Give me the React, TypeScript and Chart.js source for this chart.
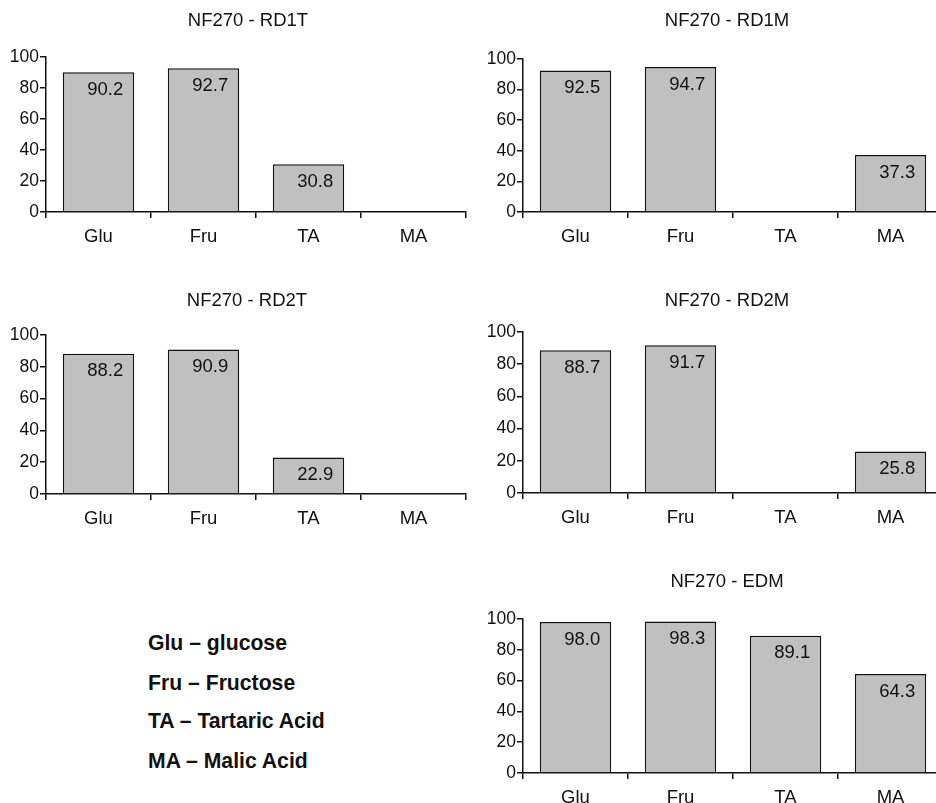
import { useEffect, useRef } from 'react';
import { Chart, registerables } from 'chart.js';

Chart.register(...registerables);

// Compounds on the x axis
const categories = ['Glu', 'Fru', 'TA', 'MA'];

// Rejection (%) per membrane test; null = not measured
const rd1tValues = [90.2, 92.7, 30.8, null];
const rd1mValues = [92.5, 94.7, null, 37.3];
const rd2tValues = [88.2, 90.9, 22.9, null];
const rd2mValues = [88.7, 91.7, null, 25.8];
const edmValues = [98.0, 98.3, 89.1, 64.3];

// Y axis range and step
const yMin = 0;
const yMax = 100;
const yStep = 20;

// Abbreviation key
const keyLines = ['Glu – glucose', 'Fru – Fructose', 'TA – Tartaric Acid', 'MA – Malic Acid'];

const FONT = '"Liberation Sans", Arial, Helvetica, sans-serif';
const INK = '#111111';
const BAR_FILL = '#c0c0c0';
const Y_AXIS_WIDTH = 46;
const PLOT_WIDTH = 420;
const X_AXIS_HEIGHT = 40;
const TITLE_SIZE = 18.5;

type Box = { left: number; top: number; width: number; plotTop: number; plotBottom: number; titleY: number };

const barValueLabels = {
  id: 'barValueLabels',
  afterDatasetsDraw(chart: any) {
    const { ctx } = chart;
    const meta = chart.getDatasetMeta(0);
    const data = chart.data.datasets[0].data as (number | null)[];
    ctx.save();
    ctx.font = `18.5px ${FONT}`;
    ctx.fillStyle = INK;
    ctx.textAlign = 'right';
    ctx.textBaseline = 'middle';
    meta.data.forEach((bar: any, i: number) => {
      const v = data[i];
      if (v == null) return;
      const { x, y, width } = bar.getProps(['x', 'y', 'width'], true);
      ctx.fillText(v.toFixed(1), x + width / 2 - 11, y + 17.5);
    });
    ctx.restore();
  },
};

function Panel({ title, values, box }: { title: string; values: (number | null)[]; box: Box }) {
  const ref = useRef<HTMLCanvasElement | null>(null);
  const height = box.plotBottom - box.top + X_AXIS_HEIGHT;
  const lh = TITLE_SIZE * 1.2;
  const padTop = box.titleY - box.top - lh / 2;
  const padBottom = box.plotTop - box.top - padTop - lh;
  const rightGap = box.width - Y_AXIS_WIDTH - PLOT_WIDTH;

  useEffect(() => {
    if (!ref.current) return;
    const chart = new Chart(ref.current, {
      type: 'bar',
      data: {
        labels: categories,
        datasets: [
          {
            data: values as any,
            backgroundColor: BAR_FILL,
            borderColor: INK,
            borderWidth: 1.5,
            categoryPercentage: 1,
            barPercentage: 0.68,
          },
        ],
      },
      plugins: [barValueLabels],
      options: {
        responsive: false,
        animation: false,
        devicePixelRatio: 1,
        layout: { padding: 0 },
        plugins: {
          legend: { display: false },
          tooltip: { enabled: false },
          title: {
            display: true,
            text: title,
            color: INK,
            font: { family: FONT, size: TITLE_SIZE, weight: 'normal' },
            padding: { top: padTop, bottom: padBottom },
          },
        },
        scales: {
          x: {
            type: 'category',
            grid: {
              display: true,
              offset: true,
              drawOnChartArea: false,
              drawTicks: true,
              tickLength: 6,
              color: INK,
              lineWidth: 1.5,
            },
            border: { display: true, color: INK, width: 1.5 },
            ticks: { color: INK, font: { family: FONT, size: 18.5 }, padding: 8, maxRotation: 0 },
            afterFit: (scale: any) => {
              scale.height = X_AXIS_HEIGHT;
            },
          },
          y: {
            min: yMin,
            max: yMax,
            grid: {
              display: true,
              drawOnChartArea: false,
              drawTicks: true,
              tickLength: 6,
              color: INK,
              lineWidth: 1.5,
            },
            border: { display: true, color: INK, width: 1.5 },
            ticks: { stepSize: yStep, color: INK, font: { family: FONT, size: 17.5 }, padding: 1 },
            afterFit: (scale: any) => {
              scale.width = Y_AXIS_WIDTH;
            },
          },
          // empty right-hand spacer keeping the plot width fixed while the title spans the canvas
          spacer: {
            type: 'linear',
            position: 'right',
            display: true,
            grid: { display: false, drawTicks: false },
            border: { display: false },
            ticks: { display: false },
            afterFit: (scale: any) => {
              scale.width = rightGap;
            },
          },
        },
      } as any,
    });
    return () => chart.destroy();
  }, []);

  return (
    <canvas
      ref={ref}
      width={box.width}
      height={height}
      style={{ position: 'absolute', left: box.left, top: box.top, width: box.width, height }}
    />
  );
}

export default function App() {
  return (
    <div
      style={{
        position: 'absolute',
        left: 0,
        top: 0,
        width: 936,
        height: 803,
        overflow: 'hidden',
        background: '#ffffff',
      }}
    >
      <Panel title="NF270 - RD1T" values={rd1tValues} box={{ left: 0, top: 0, width: 496, plotTop: 57, plotBottom: 212, titleY: 21 }} />
      <Panel title="NF270 - RD1M" values={rd1mValues} box={{ left: 477, top: 0, width: 500, plotTop: 59, plotBottom: 212, titleY: 21 }} />
      <Panel title="NF270 - RD2T" values={rd2tValues} box={{ left: 0, top: 280, width: 494, plotTop: 335, plotBottom: 494, titleY: 301 }} />
      <Panel title="NF270 - RD2M" values={rd2mValues} box={{ left: 477, top: 280, width: 500, plotTop: 332, plotBottom: 493, titleY: 301 }} />
      <Panel title="NF270 - EDM" values={edmValues} box={{ left: 477, top: 540, width: 500, plotTop: 619, plotBottom: 773, titleY: 582 }} />
      {keyLines.map((line, i) => (
        <div
          key={line}
          style={{
            position: 'absolute',
            left: 148,
            top: [630.5, 671.3, 709.3, 749][i],
            lineHeight: '24px',
            fontFamily: FONT,
            fontWeight: 'bold',
            fontSize: 21.2,
            color: INK,
            whiteSpace: 'nowrap',
          }}
        >
          {line}
        </div>
      ))}
    </div>
  );
}
